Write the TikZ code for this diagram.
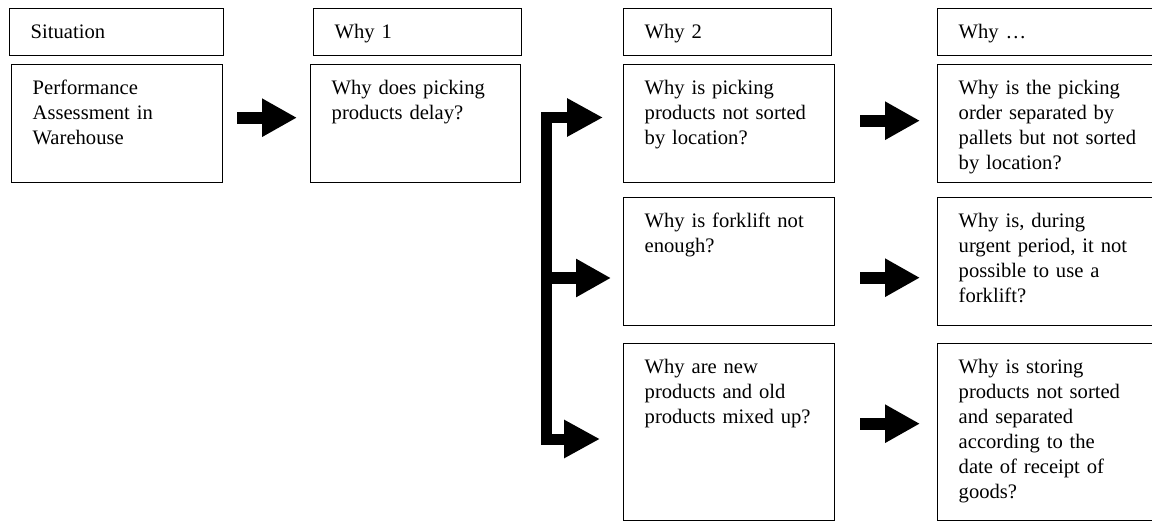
\documentclass[tikz,border=0pt]{standalone}
\usepackage{fontspec}
\setmainfont{Liberation Serif}
\usetikzlibrary{arrows.meta}

\begin{document}
\begin{tikzpicture}[x=1pt, y=-1pt,
  font=\fontsize{20.6pt}{25pt}\selectfont,
  box/.style={draw, rectangle, line width=1.4pt, anchor=north west, align=left,
    inner xsep=21pt, inner ysep=0pt, text height=30pt},
  fat/.style={line width=12pt, -{Triangle[length=35pt, width=36pt]}},
  fork/.style={line width=11pt, {Triangle[length=36pt, width=36pt]}-{Triangle[length=36pt, width=36pt]}}]
\useasboundingbox (0,0) rectangle (1152,521);
% headers
\node[box, text width=172pt, text depth=17pt] (hsit) at (9,8) {Situation};
\node[box, text width=166pt, text depth=17pt] (hwhy1) at (313,8) {Why 1};
\node[box, text width=166pt, text depth=17pt] (hwhy2) at (623,8) {Why 2};
\node[box, text width=190pt, text depth=17pt] (hwhyn) at (937,8) {Why …};
% questions
\node[box, text width=169pt, text depth=88pt] (sit) at (11,64) {Performance\\Assessment in\\Warehouse};
\node[box, text width=168pt, text depth=88pt] (why1) at (310,64) {Why does picking\\products delay?};
\node[box, text width=169pt, text depth=88pt] (why2a) at (623,64) {Why is picking\\products not sorted\\by location?};
\node[box, text width=169pt, text depth=98pt] (why2b) at (623,197) {Why is forklift not\\enough?};
\node[box, text width=169pt, text depth=147pt] (why2c) at (623,343) {Why are new\\products and old\\products mixed up?};
\node[box, text width=190pt, text depth=88pt] (whyna) at (937,64) {Why is the picking\\order separated by\\pallets but not sorted\\by location?};
\node[box, text width=190pt, text depth=98pt] (whynb) at (937,197) {Why is, during\\urgent period, it not\\possible to use a\\forklift?};
\node[box, text width=190pt, text depth=147pt] (whync) at (937,343) {Why is storing\\products not sorted\\and separated\\according to the\\date of receipt of\\goods?};
\coordinate (forktop) at (546.5,117.5);
\coordinate (forkmid) at (546.5,278);
\coordinate (forkbot) at (546.5,439);
\draw[fat, shorten <=14pt, shorten >=13pt] ([yshift=6pt]sit.east) -- ([yshift=6pt]why1.west);
\draw[fork] ([xshift=-20pt]why2a.west |- forktop) -| (forkbot) -- ([xshift=-23pt]why2c.west |- forkbot);
\draw[fat] (forkmid) -- ([xshift=-12pt]why2b.west |- forkmid);
\draw[fat, shorten <=25pt, shorten >=17pt] ([yshift=3pt]why2a.east) -- ([yshift=3pt]whyna.west);
\draw[fat, shorten <=25pt, shorten >=17pt] ([yshift=-16pt]why2b.east) -- ([yshift=-16pt]whynb.west);
\draw[fat, shorten <=25pt, shorten >=17pt] ([yshift=8.5pt]why2c.east) -- ([yshift=8.5pt]whync.west);
\end{tikzpicture}
\end{document}
